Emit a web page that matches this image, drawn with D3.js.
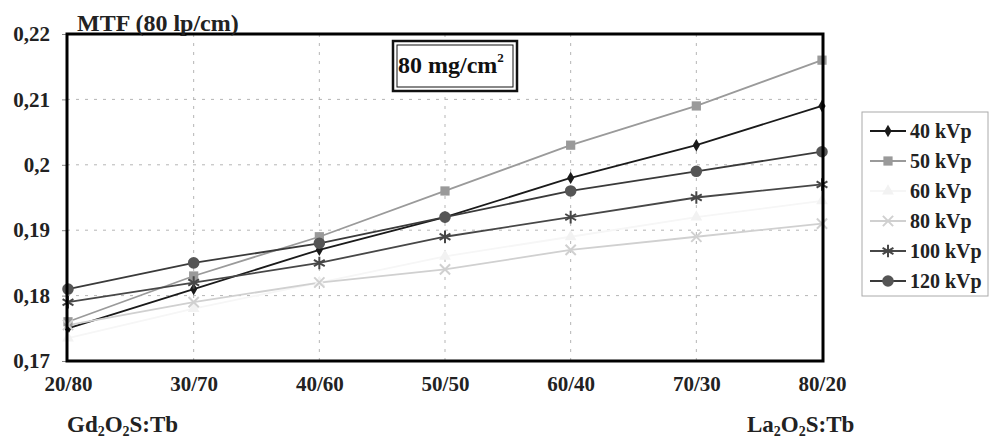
<!DOCTYPE html>
<html>
<head>
<meta charset="utf-8">
<script src="https://cdn.jsdelivr.net/npm/d3@7"></script>
<style>
  body { margin: 0; background: #fff; }
  svg { display: block; font-family: "Liberation Serif", "Times New Roman", serif; font-weight: bold; }
</style>
</head>
<body>
<svg id="chart" width="993" height="439"></svg>
<script>
var categories = ["20/80", "30/70", "40/60", "50/50", "60/40", "70/30", "80/20"];
var yTicks = [0.17, 0.18, 0.19, 0.20, 0.21, 0.22];
var yTickLabels = ["0,17", "0,18", "0,19", "0,2", "0,21", "0,22"];
var seriesNames = ["40 kVp", "50 kVp", "60 kVp", "80 kVp", "100 kVp", "120 kVp"];
var kv40 = [0.175, 0.181, 0.187, 0.192, 0.198, 0.203, 0.209];
var kv50 = [0.176, 0.183, 0.189, 0.196, 0.203, 0.209, 0.216];
var kv60 = [0.1735, 0.178, 0.182, 0.186, 0.189, 0.192, 0.1945];
var kv80 = [0.1755, 0.179, 0.182, 0.184, 0.187, 0.189, 0.191];
var kv100 = [0.179, 0.182, 0.185, 0.189, 0.192, 0.195, 0.197];
var kv120 = [0.181, 0.185, 0.188, 0.192, 0.196, 0.199, 0.202];

var series = [
  { name: seriesNames[0], values: kv40, line: "#1a1a1a", fill: "#1a1a1a", marker: "diamond" },
  { name: seriesNames[1], values: kv50, line: "#9a9a9a", fill: "#9a9a9a", marker: "square" },
  { name: seriesNames[2], values: kv60, line: "#f6f6f6", fill: "#f2f2f2", marker: "triangle" },
  { name: seriesNames[3], values: kv80, line: "#d0d0d0", fill: "#d0d0d0", marker: "x" },
  { name: seriesNames[4], values: kv100, line: "#474747", fill: "#474747", marker: "star" },
  { name: seriesNames[5], values: kv120, line: "#3a3a3a", fill: "#555", marker: "circle" }
];

var svg = d3.select("#chart"),
  margin = { top: 34, left: 67, right: 170, bottom: 78 },
  width = 993, height = 439,
  x0 = margin.left, x1 = width - margin.right,
  y0 = height - margin.bottom, y1 = margin.top;

var x = d3.scalePoint().domain(categories).range([x0 + 1, x1 - 1]);
var y = d3.scaleLinear().domain([0.17, 0.22]).range([y0, y1]);

// grid
var grid = svg.append("g").attr("class", "grid");
grid.selectAll("line.h")
  .data(yTicks.slice(1, -1))
  .enter().append("line")
  .attr("x1", x0).attr("x2", x1)
  .attr("y1", function(d) { return y(d); }).attr("y2", function(d) { return y(d); })
  .attr("stroke", "#b5b5b5").attr("stroke-width", 1).attr("stroke-dasharray", "3,6");
grid.selectAll("line.v")
  .data(categories.slice(1, -1))
  .enter().append("line")
  .attr("y1", y0).attr("y2", y1)
  .attr("x1", function(d) { return x(d); }).attr("x2", function(d) { return x(d); })
  .attr("stroke", "#b5b5b5").attr("stroke-width", 1).attr("stroke-dasharray", "3,6");

// y axis
var yAxis = d3.axisLeft(y).tickValues(yTicks).tickSize(5).tickPadding(12)
  .tickFormat(function(d, i) { return yTickLabels[i]; });
var gy = svg.append("g").attr("transform", "translate(" + x0 + ",0)").call(yAxis);
gy.select(".domain").remove();
gy.selectAll(".tick line").attr("stroke", "#888");
gy.selectAll(".tick text").attr("font-size", 21).attr("font-family", "Liberation Serif").attr("font-weight", "bold").attr("fill", "#222");

// x axis
var xAxis = d3.axisBottom(x).tickSize(0).tickPadding(15);
var gx = svg.append("g").attr("transform", "translate(0," + y0 + ")").call(xAxis);
gx.select(".domain").remove();
gx.selectAll(".tick text").attr("font-size", 21).attr("font-family", "Liberation Serif").attr("font-weight", "bold").attr("fill", "#222");

// lines
var line = d3.line()
  .x(function(d, i) { return x(categories[i]); })
  .y(function(d) { return y(d); });

var symbolFor = function(m) {
  return {
    diamond: d3.symbol().type(d3.symbolDiamond).size(45),
    square: d3.symbol().type(d3.symbolSquare).size(85),
    triangle: d3.symbol().type(d3.symbolTriangle).size(60),
    x: d3.symbol().type(d3.symbolX).size(70),
    star: d3.symbol().type(d3.symbolAsterisk).size(110),
    circle: d3.symbol().type(d3.symbolCircle).size(105)
  }[m];
};

var drawMarker = function(g, s, px, py) {
  var p = g.append("path")
    .attr("d", symbolFor(s.marker)())
    .attr("transform", "translate(" + px + "," + py + ")");
  if (s.marker === "x" || s.marker === "star") {
    p.attr("fill", "none").attr("stroke", s.fill).attr("stroke-width", 2);
  } else {
    p.attr("fill", s.fill).attr("stroke", "none");
  }
};

var plot = svg.append("g").attr("class", "data");
series.forEach(function(s) {
  plot.append("path")
    .attr("d", line(s.values))
    .attr("fill", "none")
    .attr("stroke", s.line)
    .attr("stroke-width", 1.8);
});

// frame
svg.append("rect")
  .attr("x", x0).attr("y", y1)
  .attr("width", x1 - x0).attr("height", y0 - y1)
  .attr("fill", "none").attr("stroke", "#000").attr("stroke-width", 3);

series.forEach(function(s) {
  var g = plot.append("g");
  s.values.forEach(function(v, i) { drawMarker(g, s, x(categories[i]), y(v)); });
});

// titles
svg.append("text").attr("x", 77).attr("y", 31).attr("font-size", 24).attr("fill", "#222").text("MTF (80 lp/cm)");

var tb = svg.append("g");
tb.append("rect").attr("x", 393).attr("y", 41).attr("width", 124).attr("height", 50)
  .attr("fill", "#fff").attr("stroke", "#111").attr("stroke-width", 2.5);
tb.append("rect").attr("x", 397).attr("y", 45).attr("width", 116).attr("height", 42)
  .attr("fill", "none").attr("stroke", "#111").attr("stroke-width", 1);
var tt = tb.append("text").attr("x", 398).attr("y", 73).attr("font-size", 24).attr("fill", "#111");
tt.append("tspan").text("80 mg/cm");
tt.append("tspan").attr("font-size", 13).attr("dy", -11).text("2");

var subText = function(xp, pre) {
  var t = svg.append("text").attr("x", xp).attr("y", 432).attr("font-size", 23).attr("fill", "#222");
  t.append("tspan").text(pre);
  t.append("tspan").attr("font-size", 14).attr("dy", 4).text("2");
  t.append("tspan").attr("dy", -4).text("O");
  t.append("tspan").attr("font-size", 14).attr("dy", 4).text("2");
  t.append("tspan").attr("dy", -4).text("S:Tb");
};
subText(67, "Gd");
subText(747, "La");

// legend
var lg = svg.append("g").attr("transform", "translate(862,112)");
lg.append("rect").attr("width", 126).attr("height", 184)
  .attr("fill", "#fff").attr("stroke", "#aaa").attr("stroke-width", 1);
series.forEach(function(s, i) {
  var ly = 19 + i * 30;
  lg.append("line").attr("x1", 8).attr("x2", 44).attr("y1", ly).attr("y2", ly)
    .attr("stroke", s.line).attr("stroke-width", 1.8);
  drawMarker(lg, s, 26, ly);
  lg.append("text").attr("x", 48).attr("y", ly + 7).attr("font-size", 20).attr("fill", "#222").text(s.name);
});
</script>
</body>
</html>
